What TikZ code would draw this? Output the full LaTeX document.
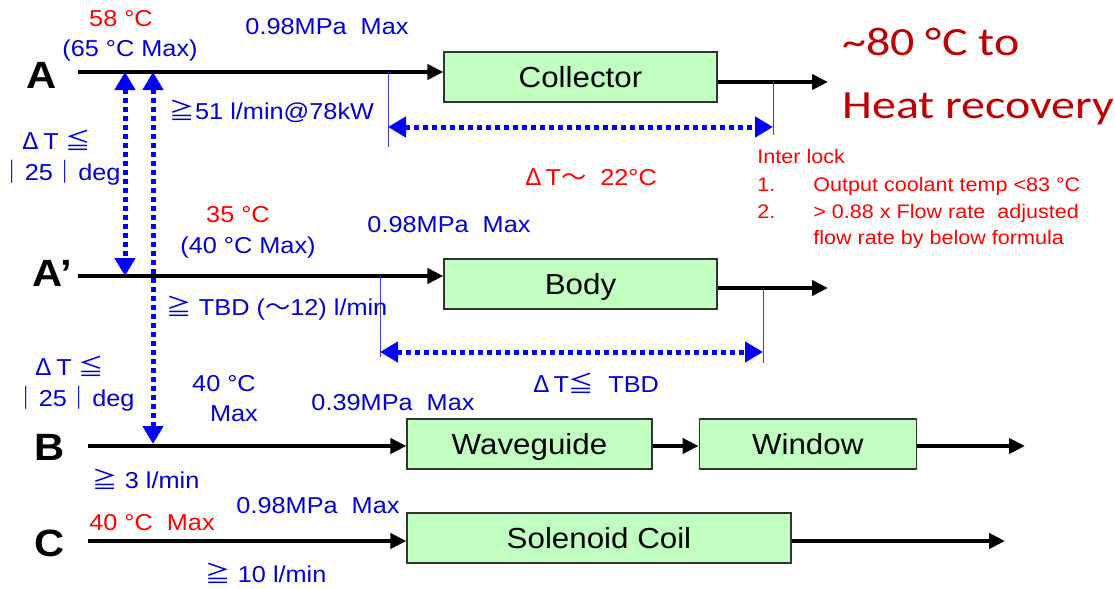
\documentclass[tikz,border=0pt]{standalone}
\usepackage{fontspec}
\setmainfont{Liberation Sans}[FakeStretch=1.1]
\newfontfamily\unitfont{Liberation Sans}[FakeStretch=1.08]
\newfontfamily\cjk{Noto Sans CJK JP}[FakeStretch=1.1]
\newfontfamily\calib{Carlito}[FakeStretch=1.2]
\usetikzlibrary{arrows.meta,positioning}
\definecolor{pipeblue}{RGB}{0,0,210}
\definecolor{spanblue}{RGB}{0,0,255}
\definecolor{tickblue}{RGB}{60,60,220}
\definecolor{warnred}{RGB}{255,0,0}
\definecolor{heatred}{RGB}{192,0,0}
\definecolor{unitgreen}{RGB}{192,255,192}
\tikzset{
  >={Triangle[length=8pt,width=7.5pt]},
  unit/.style={draw=black!80,line width=0.6pt,fill=unitgreen,minimum height=25pt,
    inner sep=0pt,text height=12.4pt,text depth=2.2pt,font=\unitfont\fontsize{14.5}{17}\selectfont},
  flow/.style={->,line width=2pt,draw=black},
  port/.style={font=\fontsize{19}{23}\selectfont\bfseries,inner sep=0pt},
  lbl/.style={text=pipeblue,font=\fontsize{11.5}{13.5}\selectfont,inner sep=0pt},
  hot/.style={lbl,text=warnred},
  span/.style={{Triangle[length=9pt,width=10pt]}-{Triangle[length=9pt,width=10pt]},
    draw=spanblue,line width=2.5pt,dash pattern=on 2.5pt off 2pt},
  tick/.style={draw=tickblue,line width=0.5pt},
}
\newcommand{\dT}{{\cjk Δ}\,T}
\newcommand{\gte}{{\cjk ≧}}
\begin{document}
\begin{tikzpicture}[x=0.5pt,y=-0.5pt]
  \useasboundingbox (0,0) rectangle (1115,589);
  % units
  \node[unit,minimum width=136.5pt] (coll) at (580.5,77) {Collector};
  \node[unit,minimum width=136.5pt] (body) at (580.5,284) {Body};
  \node[unit,minimum width=122.5pt] (wave) at (529.5,444) {Waveguide};
  \node[unit,minimum width=108.5pt,right=23pt of wave] (win) {Window};
  \node[unit,minimum width=192pt] (sol) at (599,538) {Solenoid Coil};
  % line names
  \foreach \t/\x/\y [count=\i] in {A/42/75,A’/52/273,B/50/447,C/50/543}
    \node[port] (port\i) at (\x,\y) {\t};
  % pipes
  \coordinate (Ain) at (78,72);   \coordinate (Aout) at (828,82);
  \coordinate (Apin) at (78,276); \coordinate (Apout) at (828,288);
  \coordinate (Bin) at (88,446);  \coordinate (Bout) at (1025,446);
  \coordinate (Cin) at (88,541);  \coordinate (Cout) at (1005,541);
  \draw[flow] (Ain) -- (Ain -| coll.west);
  \draw[flow] (Aout -| coll.east) -- (Aout);
  \draw[flow] (Apin) -- (Apin -| body.west);
  \draw[flow] (Apout -| body.east) -- (Apout);
  \draw[flow] (Bin) -- (Bin -| wave.west);
  \draw[flow] (Bin -| wave.east) -- (Bin -| win.west);
  \draw[flow] (Bin -| win.east) -- (Bout);
  \draw[flow] (Cin) -- (Cin -| sol.west);
  \draw[flow] (Cin -| sol.east) -- (Cout);
  % temperature spans
  \coordinate (sA1) at (388,127); \coordinate (sA2) at (773,127);
  \coordinate (sB1) at (380,352); \coordinate (sB2) at (763,352);
  \draw[tick] (Ain -| sA1) -- ++(0,75);
  \draw[tick] (Aout -| sA2) -- ++(0,53);
  \draw[tick] (Apin -| sB1) -- ++(0,81);
  \draw[tick] (Apout -| sB2) -- ++(0,75);
  \draw[span] (sA1) -- (sA2);
  \draw[span] (sB1) -- (sB2);
  \coordinate (vL) at (125,0); \coordinate (vR) at (153,0);
  \draw[span] (Ain -| vL) -- (Apin -| vL);
  \draw[span] (Ain -| vR) -- ([yshift=1pt]Bin -| vR);
  % labels
  \node[hot] (t58) at (121,19) {58 °C};
  \node[lbl] (t65) at (130,51) {(65 °C Max)};
  \node[lbl] (pA) at (327,27) {0.98MPa\ \ Max};
  \node[lbl] (fA) at (272,111) {\gte51 l/min@78kW};
  \node[lbl] (dA1) at (57,140) {\dT\ {\cjk ≦}};
  \node[lbl] (dA2) at (60,173) {{\cjk ｜}25{\cjk ｜}deg};
  \node[hot] (dTA) at (591,177) {\dT{\cjk ～}\ \ 22°C};
  \node[hot] (t35) at (238,215) {35 °C};
  \node[lbl] (t40) at (248,248) {(40 °C Max)};
  \node[lbl] (pAp) at (449,225) {0.98MPa\ \ Max};
  \node[lbl] (fAp) at (277,308) {\gte\ TBD ({\cjk ～}12) l/min};
  \node[lbl] (dB1) at (70,366) {\dT\ {\cjk ≦}};
  \node[lbl] (dB2) at (74,399) {{\cjk ｜}25{\cjk ｜}deg};
  \node[lbl] (tB1) at (224,384) {40 °C};
  \node[lbl] (tB2) at (234,414) {Max};
  \node[lbl] (pB) at (393,403) {0.39MPa\ \ Max};
  \node[lbl] (dTAp) at (596,383) {\dT{\cjk ≦}\ \ TBD};
  \node[lbl] (fB) at (146,479) {\gte\ 3 l/min};
  \node[lbl] (pC) at (318,506) {0.98MPa\ \ Max};
  \node[hot] (tC) at (152,523) {40 °C\ \ Max};
  \node[lbl] (fC) at (266,573) {\gte\ 10 l/min};
  % interlock note
  \node[text=warnred,font=\fontsize{9.8}{14}\selectfont,inner sep=0pt,anchor=north west] (lock) at (757,143)
    {\begin{tabular}{@{}p{28pt}@{}l@{}}
      \multicolumn{2}{@{}l@{}}{Inter lock}\\
      1. & Output coolant temp <83 °C\\
      2. & > 0.88 x Flow rate\ \ adjusted\\[-1.5pt]
         & flow rate by below formula
    \end{tabular}};
  \node[text=heatred,font=\calib\fontsize{20}{24}\selectfont,inner sep=0pt,anchor=base west] (heat1) at (842,55) {\textasciitilde80 °C to};
  \node[text=heatred,font=\calib\fontsize{20}{24}\selectfont,inner sep=0pt,anchor=base west] (heat2) at (842,118) {Heat recovery};
\end{tikzpicture}
\end{document}
